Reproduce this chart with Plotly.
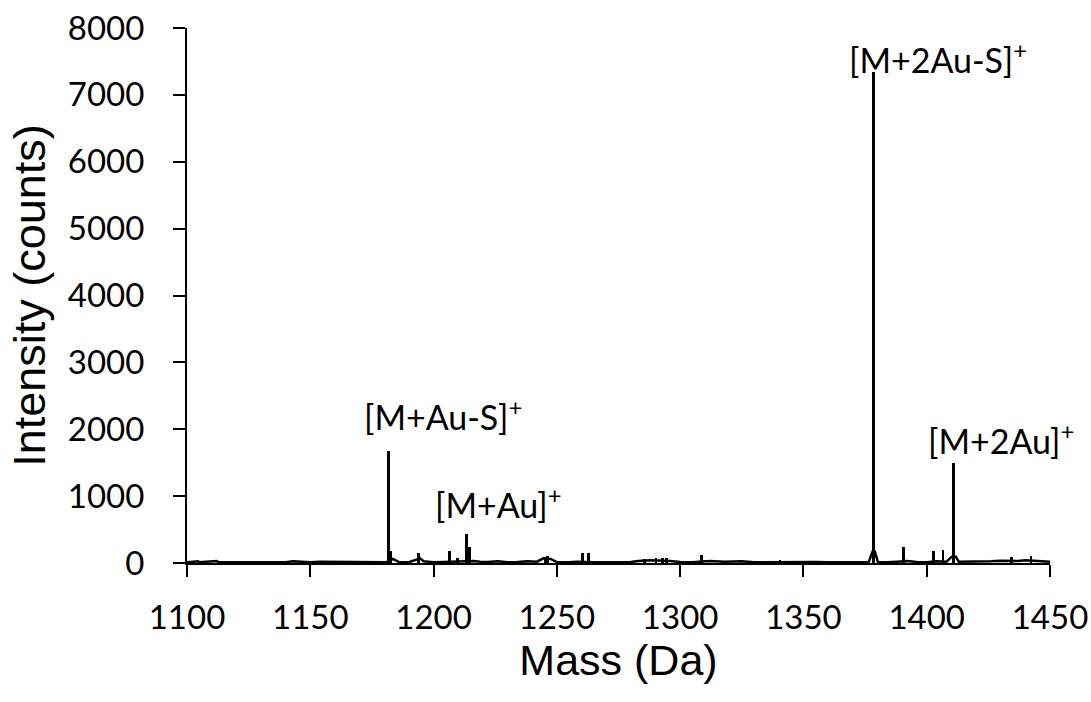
import plotly.graph_objects as go

# Major peaks (mass in Da, intensity in counts)
peak_mass = [1181.6, 1182.5, 1193.8, 1206.6, 1209.6, 1213.5, 1214.4, 1245.2, 1246.3,
             1260.3, 1262.7, 1285.5, 1290.2, 1292.8, 1294.6, 1308.7, 1340.5,
             1378.5, 1390.7, 1402.7, 1406.6, 1410.7, 1434.4, 1442.3]
peak_int = [1680, 180, 145, 180, 80, 430, 245, 90, 100,
            155, 150, 60, 70, 75, 80, 125, 45,
            7340, 245, 180, 195, 1500, 85, 105]

# Baseline / noise trace
base_mass = [1100, 1104.5, 1105, 1112, 1113, 1120, 1130, 1137, 1140, 1143, 1146, 1150,
             1154, 1159, 1163, 1167, 1170, 1173, 1178, 1181, 1183.5, 1186, 1190, 1194.5,
             1196, 1200, 1204, 1208, 1211, 1216, 1219, 1222, 1226, 1230, 1234, 1238,
             1242, 1244.5, 1247.5, 1250, 1255, 1258, 1265, 1270, 1275, 1280, 1283, 1288,
             1296, 1300, 1305, 1312, 1318, 1325, 1330, 1336, 1345, 1350, 1355, 1360,
             1366, 1372, 1376.5, 1378.0, 1379.0, 1380.2, 1384, 1388, 1392, 1396, 1400,
             1404, 1408, 1410.2, 1411.8, 1413, 1418, 1422, 1426, 1430, 1437, 1440, 1445, 1450]
base_int = [10, 25, 10, 30, 10, 12, 10, 20, 12, 25, 20, 10,
            20, 20, 15, 20, 15, 20, 12, 12, 60, 15, 12, 70,
            25, 12, 15, 20, 25, 30, 20, 15, 25, 12, 15, 25,
            20, 70, 60, 15, 12, 20, 12, 15, 12, 15, 30, 40,
            30, 15, 12, 30, 20, 25, 12, 15, 12, 12, 15, 10,
            12, 15, 15, 170, 170, 15, 12, 20, 30, 15, 12,
            25, 20, 95, 95, 20, 20, 30, 25, 35, 30, 40, 25, 20]

x_ticks = [1100, 1150, 1200, 1250, 1300, 1350, 1400, 1450]
y_ticks = [0, 1000, 2000, 3000, 4000, 5000, 6000, 7000, 8000]

ann_text = ["[M+Au-S]<sup>+</sup>", "[M+Au]<sup>+</sup>", "[M+2Au-S]<sup>+</sup>", "[M+2Au]<sup>+</sup>"]
ann_x = [1203.8, 1226.5, 1404.5, 1430.0]
ann_y = [2213, 897, 7550, 1854]

fig = go.Figure()
fig.add_trace(go.Scatter(x=base_mass, y=base_int, mode="lines",
                         line=dict(color="black", width=2.5), hoverinfo="skip",
                         showlegend=False))
fig.add_trace(go.Bar(x=peak_mass, y=peak_int, width=1.2,
                     marker=dict(color="black", line=dict(width=0)),
                     showlegend=False))

for t, ax_, ay_ in zip(ann_text, ann_x, ann_y):
    fig.add_annotation(x=ax_, y=ay_, text=t, showarrow=False,
                       font=dict(family="Lato", size=34, color="black"),
                       xanchor="center", yanchor="middle")

fig.update_layout(
    width=1091, height=702,
    margin=dict(l=187, r=41, t=28, b=139, autoexpand=False),
    paper_bgcolor="white", plot_bgcolor="white",
    bargap=0,
    xaxis=dict(range=[1100, 1450], tickvals=x_ticks, ticktext=[str(v) for v in x_ticks],
               showgrid=False, zeroline=False, showline=True, linecolor="black", linewidth=2,
               ticks="outside", ticklen=12, tickwidth=2, tickcolor="black",
               tickfont=dict(family="Lato", size=33, color="black"),
               ticklabelstandoff=12, automargin=False,
               title=dict(text="Mass (Da)", font=dict(family="Liberation Sans", size=43, color="black"),
                          standoff=8)),
    yaxis=dict(range=[0, 8000], tickvals=y_ticks, ticktext=[str(v) for v in y_ticks],
               showgrid=False, zeroline=False, showline=True, linecolor="black", linewidth=2,
               ticks="outside", ticklen=12, tickwidth=2, tickcolor="black",
               tickfont=dict(family="Lato", size=33, color="black"),
               ticklabelstandoff=22, automargin=False,
               title=dict(text="Intensity (counts)", font=dict(family="Liberation Sans", size=45, color="black"),
                          standoff=8)),
)

fig.write_html("out.html")
